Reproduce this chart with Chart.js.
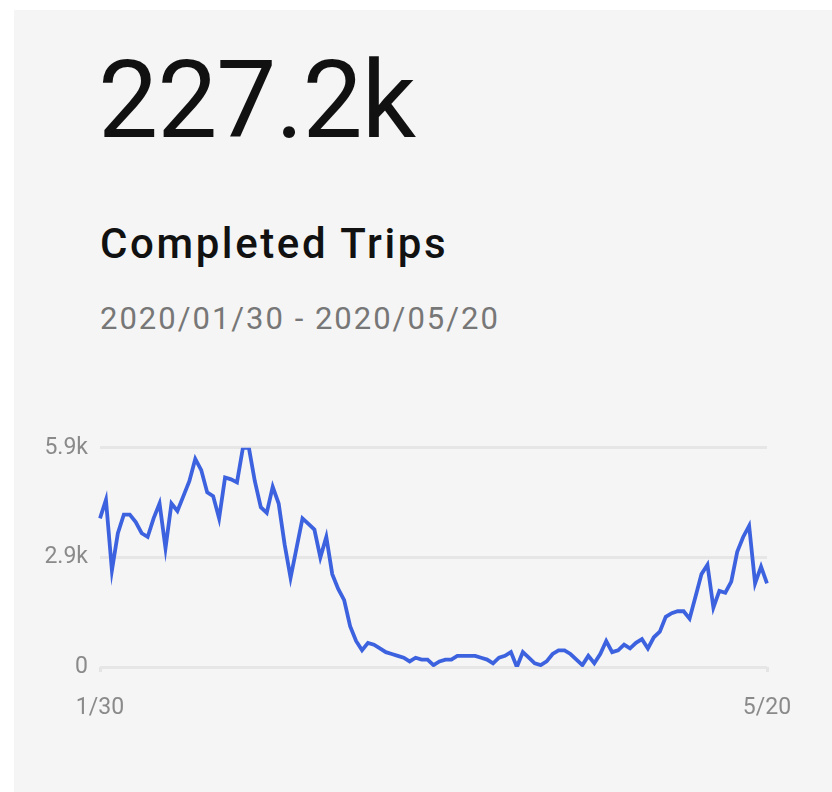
<!DOCTYPE html>
<html lang="en">
<head>
    <meta charset="UTF-8">
    <title>Completed Trips</title>
    <style>
        html, body {
            margin: 0;
            padding: 0;
            width: 832px;
            height: 792px;
            background: #ffffff;
            overflow: hidden;
            font-family: Roboto, "Noto Sans", sans-serif;
        }
        /* grey card */
        .card {
            position: absolute;
            left: 14px;
            top: 10px;
            width: 818px;
            height: 782px;
            background: #f5f5f5;
        }
        .total {
            position: absolute;
            left: 98px;
            top: 41px;
            font-size: 107px;
            line-height: 120px;
            letter-spacing: -1px;
            color: #111;
        }
        .title {
            position: absolute;
            left: 100px;
            top: 219px;
            font-size: 42px;
            font-weight: 500;
            line-height: 50px;
            letter-spacing: 2.6px;
            color: #111;
        }
        .range {
            position: absolute;
            left: 100px;
            top: 300px;
            font-size: 31px;
            line-height: 38px;
            letter-spacing: 2px;
            color: #777;
        }
        .chart-box {
            position: absolute;
            left: 0;
            top: 422px;
            width: 832px;
            height: 308px;
        }
    </style>
</head>
<body>
    <div class="card"></div>
    <div class="total">227.2k</div>
    <div class="title">Completed Trips</div>
    <div class="range">2020/01/30 - 2020/05/20</div>
    <div class="chart-box"><canvas id="trips-chart"></canvas></div>

    <script src="https://cdn.jsdelivr.net/npm/chart.js"></script>
    <script>
        // daily completed trips, 2020/01/30 .. 2020/05/20
        const tripsPart1 = [4000, 4500, 2600, 3600, 4100, 4100, 3900, 3600, 3500, 4000,
                            4400, 3200, 4400, 4200, 4600, 5000, 5600, 5300, 4700, 4600,
                            4000, 5100, 5050, 4970, 5900, 5900, 5000, 4300, 4150, 4850,
                            4400, 3300, 2400, 3200, 4000, 3850, 3700, 2950, 3500, 2500,
                            2100];
        const tripsPart2 = [1800, 1100, 700, 450, 650, 600, 500, 400, 350, 300,
                            250, 150, 250, 200, 200, 50, 150, 200, 200, 300,
                            300, 300, 300, 250, 200, 100, 250, 300, 400, 0,
                            400, 250, 100, 50, 150, 350, 450, 450, 350, 200,
                            50, 300];
        const tripsPart3 = [100, 350, 700, 400, 450, 600, 500, 650, 750, 500,
                            800, 950, 1350, 1450, 1500, 1500, 1300, 1900, 2500, 2750,
                            1600, 2050, 2000, 2300, 3100, 3500, 3800, 2250, 2700, 2250];
        const trips = tripsPart1.concat(tripsPart2, tripsPart3);

        const xTickLabels = ['1/30', '5/20'];
        const yTickLabels = ['0', '2.9k', '5.9k'];
        const yMax = 5900;

        // one category per day
        const days = [];
        const start = new Date(2020, 0, 30);
        for (let i = 0; i < trips.length; i++) {
            const d = new Date(start.getFullYear(), start.getMonth(), start.getDate() + i);
            days.push((d.getMonth() + 1) + '/' + d.getDate());
        }

        const ctx = document.getElementById('trips-chart').getContext('2d');
        new Chart(ctx, {
            type: 'line',
            data: {
                labels: days,
                datasets: [{
                    label: 'Completed Trips',
                    data: trips,
                    borderColor: '#3d62df',
                    borderWidth: 3.8,
                    pointRadius: 0,
                    tension: 0,
                    fill: false
                }]
            },
            options: {
                responsive: true,
                maintainAspectRatio: false,
                animation: false,
                layout: {
                    padding: { left: 0, right: 65, top: 9, bottom: 0 }
                },
                plugins: {
                    legend: { display: false },
                    tooltip: { enabled: false }
                },
                scales: {
                    x: {
                        grid: {
                            display: true,
                            drawOnChartArea: false,
                            drawTicks: true,
                            tickLength: 5,
                            lineWidth: 3,
                            color: '#e4e4e4'
                        },
                        border: { display: false },
                        ticks: {
                            autoSkip: false,
                            maxRotation: 0,
                            minRotation: 0,
                            padding: 22,
                            color: '#8a8a8a',
                            font: { family: 'Roboto', size: 23 },
                            callback: function(value, index) {
                                if (index === 0) return xTickLabels[0];
                                if (index === days.length - 1) return xTickLabels[1];
                                return null;
                            }
                        },
                        afterFit: function(scale) { scale.height = 63; }
                    },
                    y: {
                        min: 0,
                        max: yMax,
                        grid: {
                            drawTicks: false,
                            lineWidth: 3,
                            color: '#e6e6e6'
                        },
                        border: { display: false },
                        ticks: {
                            stepSize: yMax / 2,
                            padding: 12,
                            color: '#8a8a8a',
                            font: { family: 'Roboto', size: 23 },
                            callback: function(value, index) {
                                return yTickLabels[index];
                            }
                        },
                        afterFit: function(scale) { scale.width = 100; }
                    }
                }
            }
        });
    </script>
</body>
</html>
